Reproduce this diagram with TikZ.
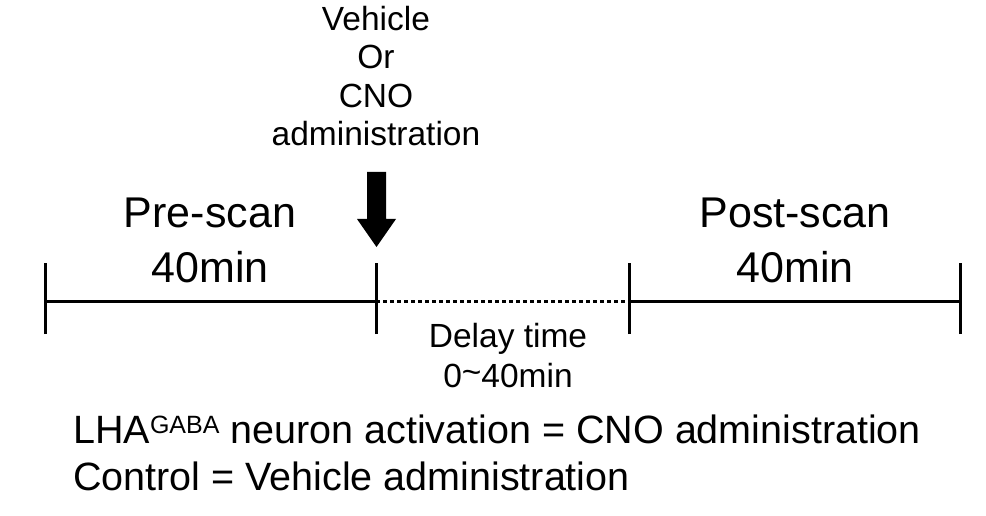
\documentclass[tikz,border=0pt]{standalone}
\usepackage{fontspec}
\setmainfont{Liberation Sans}
\begin{document}
\begin{tikzpicture}[x=1pt,y=-1pt,
  bar/.style={line width=3pt},
  lbl/.style={inner sep=0pt,anchor=base,align=center},
]
\useasboundingbox (0,0) rectangle (986,516);
% ticks
\coordinate (t1) at (45,301);
\coordinate (t2) at (376,301);
\coordinate (t3) at (629,301);
\coordinate (t4) at (960,301);
\foreach \t in {t1,t2,t3,t4}{\draw[bar] ([yshift=-33pt]\t) -- ([yshift=38pt]\t);}
\draw[bar] (t1) -- (t2);
\draw[line width=3pt,dash pattern=on 3.5pt off 3.5pt] (t2) -- (t3);
\draw[bar] (t3) -- (t4);
% arrow
\fill (367,172) -- (386,172) -- (386,219) -- (396,219) -- (376.5,247) -- (357,219) -- (367,219) -- cycle;
% texts
\node[lbl,font=\fontsize{33.5}{38.5}\selectfont] (adm) at (376,146) {Vehicle\\Or\\CNO\\administration};
\node[lbl,font=\fontsize{43}{55}\selectfont] (pre) at (210,282) {Pre-scan\\40min};
\node[lbl,font=\fontsize{43}{55}\selectfont] (post) at (795,282) {Post-scan\\40min};
\node[lbl,font=\fontsize{33.5}{40}\selectfont] (dly) at (508,387) {Delay time\\0\raisebox{0.1em}{\textasciitilde}40min};
\node[inner sep=0pt,anchor=base west,font=\fontsize{39.5}{50}\selectfont] (l1) at (73,443) {LHA\raisebox{10pt}{\fontsize{25}{25}\selectfont GABA} neuron activation = CNO administration};
\node[inner sep=0pt,anchor=base west,font=\fontsize{39.5}{50}\selectfont] (l2) at (73,490) {Control = Vehicle administration};
\end{tikzpicture}
\end{document}
